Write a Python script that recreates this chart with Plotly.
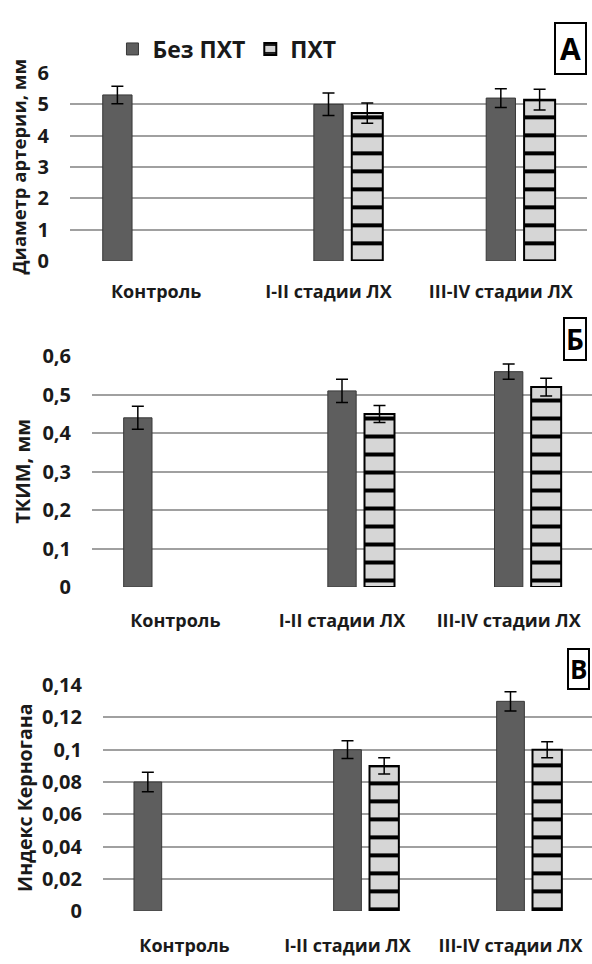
import plotly.graph_objects as go

categories = ["Контроль", "I-II стадии ЛХ", "III-IV стадии ЛХ"]
series_names = ["Без ПХТ", "ПХТ"]

# Panel А – диаметр артерии, мм
diam_no = [5.3, 5.0, 5.2]
diam_no_err = [0.28, 0.36, 0.30]
diam_pxt = [None, 4.72, 5.15]
diam_pxt_err = [0, 0.32, 0.33]

# Panel Б – ТКИМ, мм
tkim_no = [0.44, 0.51, 0.56]
tkim_no_err = [0.03, 0.03, 0.02]
tkim_pxt = [None, 0.45, 0.52]
tkim_pxt_err = [0, 0.022, 0.023]

# Panel В – Индекс Керногана
kern_no = [0.08, 0.10, 0.13]
kern_no_err = [0.006, 0.0055, 0.006]
kern_pxt = [None, 0.09, 0.10]
kern_pxt_err = [0, 0.005, 0.005]

y_ticks_a = [0, 1, 2, 3, 4, 5, 6]
y_ticks_b = [0, 0.1, 0.2, 0.3, 0.4, 0.5, 0.6]
y_ticks_c = [0, 0.02, 0.04, 0.06, 0.08, 0.1, 0.12, 0.14]

W, H = 592, 964
FONT = "Open Sans"
TXT = "#1a1a1a"
DARK = "#5e5e5e"
LIGHT = "#d6d6d6"

fig = go.Figure()

panels = [
    (diam_no, diam_no_err, diam_pxt, diam_pxt_err, "", "y"),
    (tkim_no, tkim_no_err, tkim_pxt, tkim_pxt_err, "2", "y2"),
    (kern_no, kern_no_err, kern_pxt, kern_pxt_err, "3", "y3"),
]

dark_w = 0.17
hat_w = 0.18
dark_offsets = [-0.225 - dark_w / 2, -dark_w / 2, -dark_w / 2]
hat_offset = 0.225 - hat_w / 2

for i, (v_no, e_no, v_px, e_px, sfx, ya) in enumerate(panels):
    fig.add_trace(go.Bar(
        x=categories, y=v_no, name=series_names[0],
        xaxis="x" + sfx, yaxis=ya,
        width=dark_w, offset=dark_offsets,
        marker=dict(color=DARK, line=dict(color="#383838", width=1)),
        error_y=dict(type="data", array=e_no, color="black", thickness=1.5, width=6),
        showlegend=(i == 0), legendgroup="a",
    ))
    fig.add_trace(go.Bar(
        x=categories, y=v_px, name=series_names[1],
        xaxis="x" + sfx, yaxis=ya,
        width=hat_w, offset=hat_offset,
        marker=dict(color=LIGHT, line=dict(color="black", width=2),
                    pattern=dict(shape="-", fgcolor="#000000", bgcolor=LIGHT,
                                 fgopacity=1, size=18, solidity=0.22,
                                 fillmode="replace")),
        error_y=dict(type="data", array=e_px, color="black", thickness=1.5, width=6),
        showlegend=(i == 0), legendgroup="b",
    ))

def px_x(a, b):
    return [a / W, min(b / W, 1.0)]

def px_y(top, bottom):
    return [1 - bottom / H, 1 - top / H]

def f(size):
    return dict(family=FONT, size=size, color=TXT, weight="bold")

xcommon = dict(type="category", showgrid=False, showline=False, zeroline=False,
               ticks="outside", tickcolor="rgba(0,0,0,0)", tickfont=f(18))
ycommon = dict(showgrid=True, gridcolor="#a0a0a0", gridwidth=1.6, zeroline=False,
               showline=False, ticks="outside", tickcolor="rgba(0,0,0,0)",
               ticklen=16, tickfont=f(20))

fig.update_layout(
    xaxis=dict(domain=px_x(70, 587), anchor="y", ticklen=14, **xcommon),
    xaxis2=dict(domain=px_x(92, 592), anchor="y2", ticklen=17, **xcommon),
    xaxis3=dict(domain=px_x(103, 592), anchor="y3", ticklen=18, **xcommon),
    yaxis=dict(domain=px_y(61, 255), anchor="x", range=[0, 6.02], tickvals=y_ticks_a,
               ticktext=[str(v) for v in y_ticks_a],
               title=dict(text="Диаметр артерии, мм", standoff=6, font=f(18.5)),
               **ycommon),
    yaxis2=dict(domain=px_y(352, 590), anchor="x2", range=[0, 0.602], tickvals=y_ticks_b,
                ticktext=[("%g" % v).replace(".", ",") for v in y_ticks_b],
                title=dict(text="ТКИМ, мм", standoff=6, font=f(20)),
                **ycommon),
    yaxis3=dict(domain=px_y(690, 923), anchor="x3", range=[0, 0.1405], tickvals=y_ticks_c,
                ticktext=[("%g" % v).replace(".", ",") for v in y_ticks_c],
                title=dict(text="Индекс Керногана", standoff=4, font=f(19.5)),
                **ycommon),
    barmode="overlay",
    width=W, height=H,
    margin=dict(l=0, r=0, t=0, b=0),
    paper_bgcolor="white", plot_bgcolor="white",
    font=f(18),
    legend=dict(orientation="h", x=0.19, xanchor="left", y=1 - 37 / H, yanchor="middle",
                font=f(23), bgcolor="rgba(0,0,0,0)", itemwidth=30, tracegroupgap=0),
)

boxes = [("А", 570, 36, 30, 4), ("Б", 575, 335, 28, 1), ("В", 578, 674, 26, 1)]
for txt, cx, cy, sz, pad in boxes:
    fig.add_annotation(
        text=txt, x=cx / W, y=1 - cy / H, xref="paper", yref="paper",
        showarrow=False, xanchor="center", yanchor="middle",
        font=dict(family=FONT, size=sz, color="black", weight="bold"),
        bordercolor="black", borderwidth=2, borderpad=pad, bgcolor="white",
    )

fig.write_html("out.html", config={"displayModeBar": False},
               post_script="document.body.style.margin='0px';")
